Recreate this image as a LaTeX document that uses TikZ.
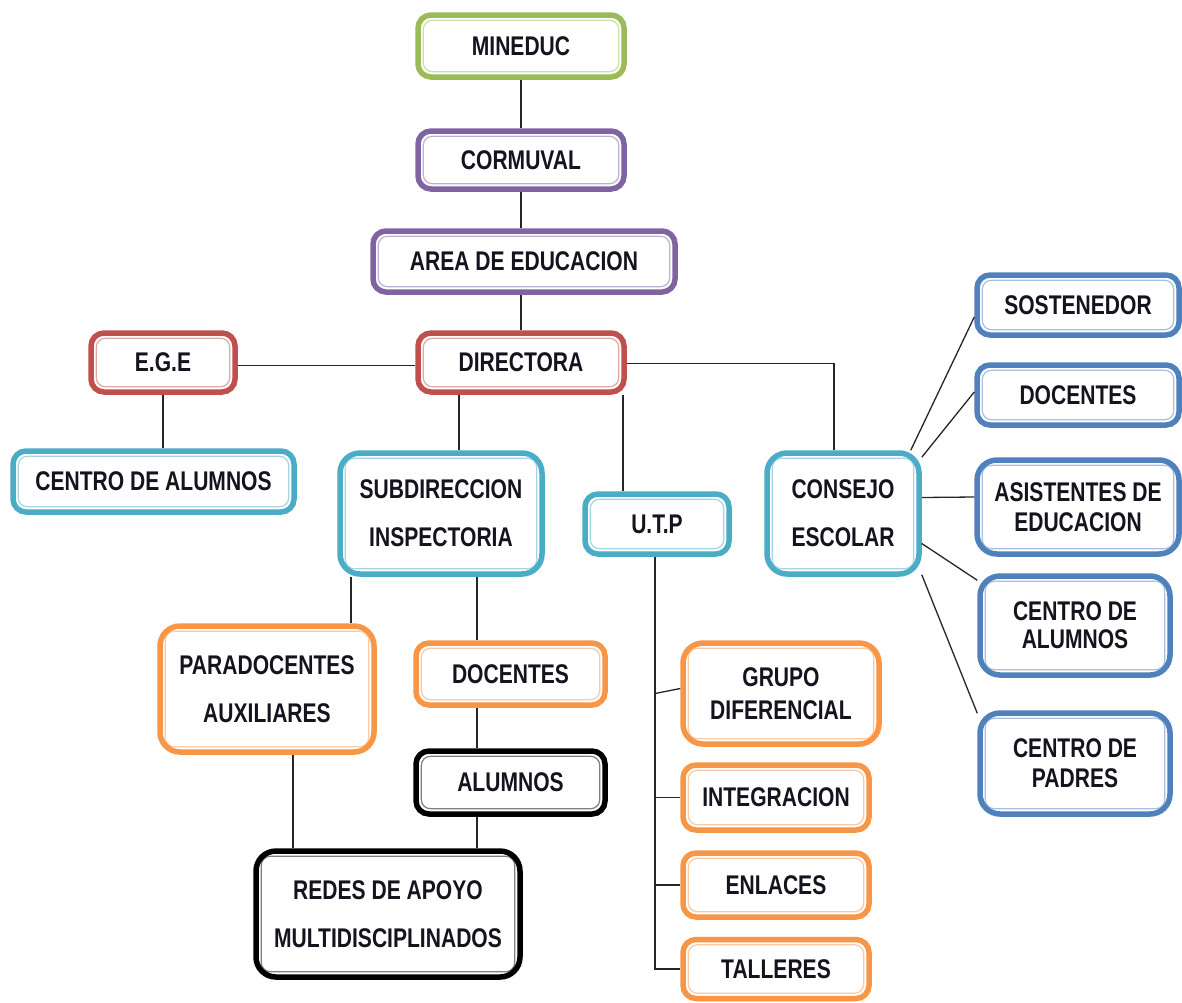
\documentclass[tikz,border=0pt]{standalone}
\usepackage{fontspec}
\newfontfamily\lbl[FakeStretch=0.78]{Liberation Sans}
\definecolor{cgreen}{HTML}{9BBB59}
\definecolor{cpurple}{HTML}{8064A2}
\definecolor{cred}{HTML}{C0504D}
\definecolor{cteal}{HTML}{4BACC6}
\definecolor{cblue}{HTML}{4F81BD}
\definecolor{corange}{HTML}{F79646}
\definecolor{cblack}{HTML}{000000}
\definecolor{ctext}{HTML}{14141E}
\begin{document}
\begin{tikzpicture}[x=1pt,y=-1pt,
  box/.style={draw=#1, line width=5.5pt, rounded corners=13pt, fill=white, align=center, inner sep=0pt,
    text=ctext, font=\lbl\bfseries\fontsize{27}{48}\selectfont,
    path picture={\draw[#1!50, line width=1.2pt, rounded corners=9pt]
      ([shift={(5.3pt,5.3pt)}]path picture bounding box.south west) rectangle
      ([shift={(-5.3pt,-5.3pt)}]path picture bounding box.north east);}},
  tallbox/.style={rounded corners=20pt},
  lh/.style={font=\lbl\bfseries\fontsize{27}{#1}\selectfont},
  link/.style={draw=black!85, line width=1.3pt}]
\useasboundingbox (0,0) rectangle (1182,1002);
\fill[white] (0,0) rectangle (1182,1002);

% top chain
\node[box=cgreen, minimum width=206pt, minimum height=62pt] (min) at (521,46) {MINEDUC};
\node[box=cpurple, minimum width=206pt, minimum height=58pt] (cor) at (521,160) {CORMUVAL};
\node[box=cpurple, minimum width=302pt, minimum height=61pt] (area) at (524,261.5) {AREA DE EDUCACION};
\node[box=cred, minimum width=206pt, minimum height=59pt] (dir) at (521,362.5) {DIRECTORA};
\node[box=cred, minimum width=144pt, minimum height=59pt] (ege) at (163,362.5) {E.G.E};
\node[box=cteal, minimum width=281pt, minimum height=61pt] (cal) at (153.5,481.5) {CENTRO DE ALUMNOS};
\node[box=cteal, tallbox, minimum width=202pt, minimum height=121pt] (sub) at (441,513.5) {SUBDIRECCION\\INSPECTORIA};
\node[box=cteal, minimum width=144pt, minimum height=60pt] (utp) at (657,524) {U.T.P};
\node[box=cteal, tallbox, minimum width=152pt, minimum height=121pt] (con) at (843,513.5) {CONSEJO\\ESCOLAR};

% right column
\node[box=cblue, minimum width=202pt, minimum height=60pt] (sos) at (1078,305) {SOSTENEDOR};
\node[box=cblue, minimum width=202pt, minimum height=60pt] (docr) at (1078,395) {DOCENTES};
\node[box=cblue, tallbox, lh=30, minimum width=202pt, minimum height=94pt] (asis) at (1078,507) {ASISTENTES DE\\EDUCACION};
\node[box=cblue, tallbox, lh=28, minimum width=190pt, minimum height=99pt] (calr) at (1075,625.5) {CENTRO DE\\ALUMNOS};
\node[box=cblue, tallbox, lh=30, minimum width=190pt, minimum height=101pt] (pad) at (1075,763.5) {CENTRO DE\\PADRES};

% lower left
\node[box=corange, tallbox, minimum width=214pt, minimum height=126pt] (par) at (267,689) {PARADOCENTES\\AUXILIARES};
\node[box=corange, minimum width=189pt, minimum height=62pt] (docm) at (510.5,674) {DOCENTES};
\node[box=cblack, minimum width=189pt, minimum height=63pt] (alu) at (510.5,782.5) {ALUMNOS};
\node[box=cblack, tallbox, minimum width=264pt, minimum height=126pt] (red) at (388,914) {REDES DE APOYO\\MULTIDISCIPLINADOS};

% UTP children
\node[box=corange, tallbox, lh=33, minimum width=196pt, minimum height=101pt] (gru) at (781,693.5) {GRUPO\\DIFERENCIAL};
\node[box=corange, minimum width=186pt, minimum height=65pt] (int) at (776,797.5) {INTEGRACION};
\node[box=corange, minimum width=186pt, minimum height=64pt] (enl) at (776,885) {ENLACES};
\node[box=corange, minimum width=186pt, minimum height=59pt] (tal) at (776,969) {TALLERES};

% connectors
\draw[link] (min.south) -- (cor.north);
\draw[link] (cor.south) -- (cor.south |- area.north);
\draw[link] (dir.north |- area.south) -- (dir.north);
\draw[link] ([yshift=-3pt]ege.east) -- ([yshift=-3pt]dir.west);
\draw[link] (ege.south) -- (ege.south |- cal.north);
\draw[link] ([xshift=-62pt]dir.south) -- ([xshift=-62pt]dir.south |- sub.north);
\draw[link] ([xshift=102pt]dir.south) -- ([xshift=102pt]dir.south |- utp.north);
\draw[link] ([yshift=-1pt]dir.east) -| ([xshift=-9pt]con.north);

\draw[link] ([xshift=-11pt]con.north east) -- ([yshift=-12pt]sos.west);
\draw[link] ([yshift=-7pt]con.north east) -- ([yshift=3pt]docr.west);
\draw[link] ([yshift=16pt]con.east) -- ([yshift=10pt]asis.west);
\draw[link] ([yshift=-30pt]con.east) -- ([yshift=-7pt]calr.north west);
\draw[link] ([yshift=2pt]con.south east) -- ([yshift=-3pt]pad.north west);

\draw[link] ([xshift=-90pt]sub.south) -- ([xshift=-90pt]sub.south |- par.north);
\draw[link] ([xshift=36pt]sub.south) -- ([xshift=36pt]sub.south |- docm.north);
\draw[link] ([xshift=-33.5pt]docm.south) -- ([xshift=-33.5pt]alu.north);
\draw[link] ([xshift=-33.5pt]alu.south) -- ([xshift=-33.5pt]alu.south |- red.north);
\draw[link] ([xshift=26pt]par.south) -- ([xshift=26pt]par.south |- red.north);

\draw[link] ([xshift=-2pt]utp.south) |- (tal.west);
\draw[link] ([xshift=-2pt]utp.south |- gru.west) -- ([yshift=5pt]gru.west);
\draw[link] ([xshift=-2pt]utp.south |- int.west) -- (int.west);
\draw[link] ([xshift=-2pt]utp.south |- enl.west) -- (enl.west);
\end{tikzpicture}
\end{document}
